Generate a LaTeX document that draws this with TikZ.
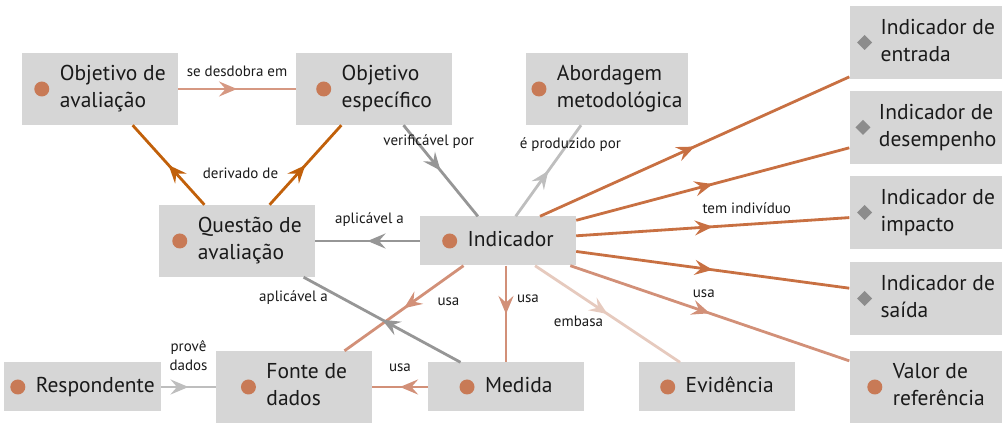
\documentclass[tikz,border=0pt]{standalone}
\usepackage{fontspec}
\setmainfont{PT Sans}
\usepackage{xcolor}
\usetikzlibrary{arrows.meta, positioning, decorations.markings}
\definecolor{boxgray}{RGB}{214,214,214}
\definecolor{dotorange}{RGB}{200,122,86}
\definecolor{diamgray}{RGB}{140,140,140}
\definecolor{textblack}{RGB}{26,26,26}
\definecolor{derivedorange}{RGB}{193,96,10}
\definecolor{kindorange}{RGB}{200,112,66}
\definecolor{usesalmon}{RGB}{210,144,120}
\definecolor{unfoldsalmon}{RGB}{214,152,130}
\definecolor{relgray}{RGB}{150,150,150}
\definecolor{palegray}{RGB}{190,190,190}
\definecolor{supportpink}{RGB}{230,202,190}
\newcommand{\dottext}[1]{\begin{tabular}{@{\hspace{25.5pt}}l@{}}#1\end{tabular}}
\newcommand{\kindtext}[1]{\begin{tabular}{@{\hspace{23.5pt}}l@{}}#1\end{tabular}}
\tikzstyle{concept} = [rectangle, fill=boxgray, text=textblack, minimum width=156pt, minimum height=72pt, inner sep=0pt, font=\fontsize{21.5}{27}\selectfont]
\tikzstyle{single} = [concept, minimum height=49pt]
\tikzstyle{kind} = [concept, minimum width=153pt, minimum height=73pt]
\tikzstyle{lbl} = [font=\fontsize{15}{19}\selectfont, text=textblack, inner sep=1pt]
\tikzstyle{rel} = [line width=2.8pt, postaction={decorate}, decoration={markings, mark=at position 0.5 with {\arrow{Stealth[length=18pt, width=15pt, inset=6.5pt]}}}]

\begin{document}
\begin{tikzpicture}[x=1pt, y=1pt, node distance=146pt]
\useasboundingbox (0,0) rectangle (1002,425);

% Central indicator and question
\node (indicador) [single] at (498,184) {\dottext{Indicador}};
\node (questao) [concept, left of=indicador, xshift=-115pt] {\dottext{Questão de\\avaliação}};

% Objectives and approach
\node (objesp) [concept, above of=questao, xshift=137pt, yshift=6pt] {\dottext{Objetivo\\específico}};
\node (objaval) [concept, left of=objesp, xshift=-128pt] {\dottext{Objetivo de\\avaliação}};
\node (abordagem) [concept, minimum width=162pt, right of=objesp, xshift=87pt] {\dottext{Abordagem\\metodológica}};

% Bottom row
\node (medida) [single, below of=indicador, xshift=8pt] {\dottext{Medida}};
\node (fonte) [concept, left of=medida, xshift=-66pt] {\dottext{Fonte de\\dados}};
\node (respondente) [single, minimum width=157pt, left of=fonte, xshift=-65.5pt] {\dottext{Respondente}};
\node (evidencia) [single, right of=medida, xshift=65pt] {\dottext{Evidência}};
\node (valor) [concept, minimum width=153pt, right of=evidencia, xshift=63pt] {\dottext{Valor de\\referência}};

% Indicator kinds
\node (saida) [kind, above of=valor, yshift=-57.5pt] {\kindtext{Indicador de\\saída}};
\node (impacto) [kind, above of=saida, yshift=-60pt] {\kindtext{Indicador de\\impacto}};
\node (desempenho) [kind, above of=impacto, yshift=-61pt] {\kindtext{Indicador de\\desempenho}};
\node (entrada) [kind, above of=desempenho, yshift=-61pt] {\kindtext{Indicador de\\entrada}};

% Markers
\foreach \n in {objaval, objesp, abordagem, questao, indicador, respondente, fonte, medida, evidencia, valor}
  \fill[dotorange] (\n.text |- \n.center) ++(7.5pt,0) circle (7.5pt);
\foreach \n in {entrada, desempenho, impacto, saida}
  \fill[diamgray] (\n.text |- \n.center) ++(7.5pt,7.5pt) -- ++(7.5pt,-7.5pt) -- ++(-7.5pt,-7.5pt) -- ++(-7.5pt,7.5pt) -- cycle;

% Arrows
\draw [rel, unfoldsalmon] (objaval) -- node[lbl, yshift=18pt] {se desdobra em} (objesp);
\draw [rel, derivedorange] (questao) -- node[lbl, xshift=72pt, yshift=-8pt] {derivado de} (objaval);
\draw [rel, derivedorange] (questao) -- (objesp);
\draw [rel, relgray] (objesp) -- node[lbl, xshift=-12pt, yshift=29pt] {verificável por} (indicador);
\draw [rel, palegray] (indicador) -- node[lbl, xshift=22pt, yshift=26pt] {é produzido por} (abordagem);
\draw [rel, relgray] (indicador) -- node[lbl, xshift=2pt, yshift=21pt] {aplicável a} (questao);
\draw [rel, kindorange] ([xshift=42pt]indicador.north) -- (entrada);
\draw [rel, kindorange] (indicador) -- (desempenho);
\draw [rel, kindorange] (indicador) -- node[lbl, xshift=34pt, yshift=19pt] {tem indivíduo} (impacto);
\draw [rel, kindorange] (indicador) -- (saida);
\draw [rel, usesalmon] (indicador) -- node[lbl, xshift=-6pt, yshift=20pt] {usa} (valor);
\draw [rel, supportpink] (indicador) -- node[lbl, xshift=-29pt, yshift=-7.5pt] {embasa} (evidencia);
\draw [rel, usesalmon] (indicador.south -| medida) -- node[lbl, xshift=22pt, yshift=15.5pt] {usa} (medida);
\draw [rel, usesalmon] (indicador) -- node[lbl, xshift=44.5pt, yshift=6.5pt] {usa} (fonte);
\draw [rel, relgray] (medida) -- node[lbl, xshift=-88.5pt, yshift=22pt] {aplicável a} (questao);
\draw [rel, usesalmon] (medida) -- node[lbl, yshift=19pt] {usa} (fonte);
\draw [rel, palegray] (respondente) -- node[lbl, align=center, yshift=31pt] {provê\\dados} (fonte);

\end{tikzpicture}
\end{document}
